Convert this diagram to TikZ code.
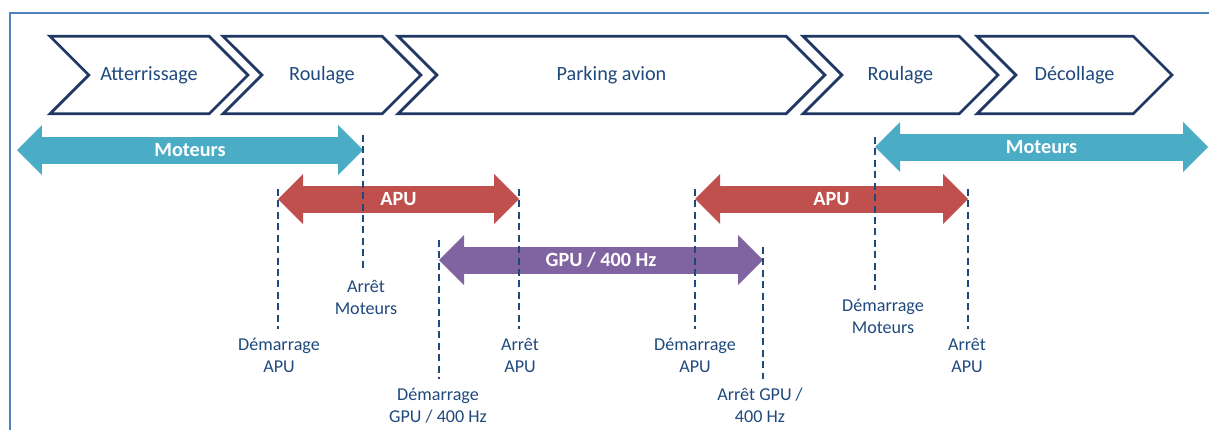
\documentclass[tikz,border=0pt]{standalone}
\usepackage{fontspec}
\setmainfont{Carlito}
\usetikzlibrary{positioning, arrows.meta, shapes.symbols}
\definecolor{navy}{HTML}{1F3864}
\definecolor{navytext}{HTML}{1F497D}
\definecolor{motcol}{HTML}{4BACC6}
\definecolor{apucol}{HTML}{C0504D}
\definecolor{gpucol}{HTML}{8064A2}
\definecolor{framecol}{HTML}{4F81BD}
\tikzset{
  phase/.style={signal, signal to=east, signal from=west, signal pointer angle=90,
    draw=navy, line width=1.6pt, minimum height=1.55cm, inner sep=0pt,
    text=navytext, font=\fontsize{11.5}{14}\selectfont},
  span/.style={line width=0.54cm,
    {Triangle[length=0.5cm,width=1cm,line width=0pt]}-{Triangle[length=0.5cm,width=1cm,line width=0pt]}},
  spantext/.style={text=white, font=\bfseries\fontsize{11.5}{14}\selectfont},
  event/.style={align=center, text=navytext, inner sep=2pt,
    font=\fontsize{10.3}{12.5}\selectfont},
  marker/.style={navytext, line width=0.8pt, dash pattern=on 4pt off 2.5pt, shorten >=3pt},
}
\begin{document}
\begin{tikzpicture}[x=0.02cm, y=-0.02cm]
\useasboundingbox (0,0) rectangle (1209,430);
% cadre
\draw[framecol, line width=0.9pt] (10,430) -- (10,13) -- (1209,13);

% phases
\node[phase, minimum width=3.96cm] (atter) at (149,75) {Atterrissage};
\node[phase, minimum width=3.96cm] (roul1) at (322,75) {Roulage};
\node[phase, minimum width=8.54cm] (park) at (611.5,75) {Parking avion};
\node[phase, minimum width=3.9cm] (roul2) at (900.5,75) {Roulage};
\node[phase, minimum width=3.9cm] (decol) at (1074.5,75) {Décollage};

% evenements
\coordinate (mAMot1) at (363,135);
\coordinate (mDApu1) at (278,189);
\coordinate (mAApu1) at (519,189);
\coordinate (mDGpu) at (439,240);
\coordinate (mDApu2) at (695,189);
\coordinate (mAGpu) at (763,247);
\coordinate (mDMot2) at (875,137);
\coordinate (mAApu2) at (968,189);
\node[event] (lAMot1) at (366,297.5) {Arrêt\\Moteurs};
\node[event] (lDApu1) at (279,355) {Démarrage\\APU};
\node[event] (lAApu1) at (520,355) {Arrêt\\APU};
\node[event] (lDGpu) at (438,405.5) {Démarrage\\GPU / 400 Hz};
\node[event] (lDApu2) at (695,355) {Démarrage\\APU};
\node[event] (lAGpu) at (760,405.5) {Arrêt GPU /\\400 Hz};
\node[event] (lDMot2) at (883,316) {Démarrage\\Moteurs};
\node[event] (lAApu2) at (967,355) {Arrêt\\APU};

% sources
\coordinate (gMot1) at (17,150);
\coordinate (gMot2) at (1208,147);
\coordinate (rApu) at (0,199);
\coordinate (rGpu) at (0,260);
\draw[span, motcol] (gMot1) -- (gMot1 -| mAMot1) node[midway, spantext] {Moteurs};
\draw[span, apucol] (mDApu1 |- rApu) -- (mAApu1 |- rApu) node[midway, spantext] {APU};
\draw[span, gpucol] (mDGpu |- rGpu) -- (mAGpu |- rGpu) node[midway, spantext] {GPU / 400 Hz};
\draw[span, apucol] (mDApu2 |- rApu) -- (mAApu2 |- rApu) node[midway, spantext] {APU};
\draw[span, motcol] (gMot2 -| mDMot2) -- (gMot2) node[midway, spantext] {Moteurs};

\draw[marker] (mAMot1) -- (mAMot1 |- lAMot1.north);
\draw[marker] (mDApu1) -- (mDApu1 |- lDApu1.north);
\draw[marker] (mAApu1) -- (mAApu1 |- lAApu1.north);
\draw[marker] (mDGpu) -- (mDGpu |- lDGpu.north);
\draw[marker] (mDApu2) -- (mDApu2 |- lDApu2.north);
\draw[marker] (mAGpu) -- (mAGpu |- lAGpu.north);
\draw[marker] (mDMot2) -- (mDMot2 |- lDMot2.north);
\draw[marker] (mAApu2) -- (mAApu2 |- lAApu2.north);
\end{tikzpicture}
\end{document}
